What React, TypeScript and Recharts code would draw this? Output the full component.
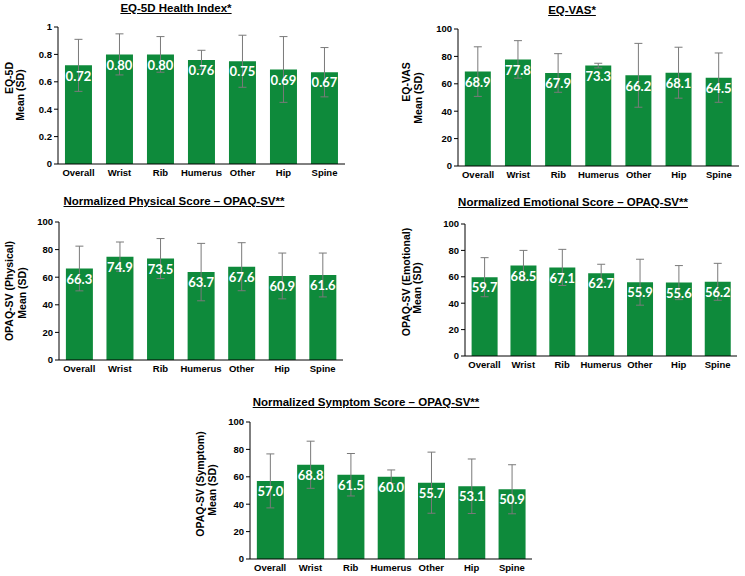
import React from "react";
import { BarChart, Bar, XAxis, YAxis, ErrorBar, LabelList } from "recharts";

const categories = ["Overall", "Wrist", "Rib", "Humerus", "Other", "Hip", "Spine"];

const eq5dMeans = [0.72, 0.8, 0.8, 0.76, 0.75, 0.69, 0.67];
const eq5dSDs = [0.19, 0.15, 0.13, 0.07, 0.19, 0.24, 0.18];

const vasMeans = [68.9, 77.8, 67.9, 73.3, 66.2, 68.1, 64.5];
const vasSDs = [18.1, 13.7, 14.1, 1.7, 23.3, 18.6, 18.0];

const physMeans = [66.3, 74.9, 73.5, 63.7, 67.6, 60.9, 61.6];
const physSDs = [16.2, 10.6, 14.5, 20.8, 17.4, 16.6, 15.9];

const emoMeans = [59.7, 68.5, 67.1, 62.7, 55.9, 55.6, 56.2];
const emoSDs = [14.8, 11.5, 13.7, 6.8, 17.4, 12.9, 14.0];

const sympMeans = [57.0, 68.8, 61.5, 60.0, 55.7, 53.1, 50.9];
const sympSDs = [19.7, 17.2, 15.5, 5.0, 22.3, 19.9, 17.9];

const ticks01 = [0, 0.2, 0.4, 0.6, 0.8, 1];
const ticks100 = [0, 20, 40, 60, 80, 100];

const GREEN = "#0e8a3b";
const FONT = "'Liberation Sans', Arial, sans-serif";

type Rect = { left: number; top: number; right: number; bottom: number };

function Panel(props: {
  means: number[];
  sds: number[];
  domain: [number, number];
  ticks: number[];
  decimals: number;
  tickFmt: (v: number) => string;
  rect: Rect;
  title: string;
  titleX: number;
  titleY: number;
  yLines: { text: string; x: number; y: number }[];
}) {
  const { means, sds, domain, ticks, decimals, tickFmt, rect, title, titleX, titleY, yLines } = props;
  const data = categories.map((c, i) => ({ name: c, mean: means[i], sd: sds[i] }));
  const chartLeft = rect.left - 40;
  const chartTop = rect.top - 10;
  const width = rect.right + 6 - chartLeft;
  const height = rect.bottom + 20 - chartTop;
  return (
    <>
      <div
        style={{
          position: "absolute",
          left: titleX - 200,
          top: titleY - 8,
          width: 400,
          textAlign: "center",
          fontFamily: FONT,
          fontWeight: "bold",
          fontSize: 11.5,
          lineHeight: "16px",
          color: "#000",
        }}
      >
        <span style={{ textDecoration: "underline" }}>{title}</span>
      </div>
      {yLines.map((l, i) => (
        <div
          key={i}
          style={{
            position: "absolute",
            left: l.x - 100,
            top: l.y - 7,
            width: 200,
            height: 14,
            lineHeight: "14px",
            textAlign: "center",
            fontFamily: FONT,
            fontWeight: "bold",
            fontSize: 10.5,
            color: "#000",
            transform: "rotate(-90deg)",
            transformOrigin: "50% 50%",
            whiteSpace: "nowrap",
          }}
        >
          {l.text}
        </div>
      ))}
      <div style={{ position: "absolute", left: chartLeft, top: chartTop }}>
        <BarChart
          width={width}
          height={height}
          data={data}
          margin={{ top: 10, right: 6, bottom: 0, left: 10 }}
          barCategoryGap="17%"
        >
          <XAxis
            dataKey="name"
            height={20}
            tickLine={false}
            tickSize={3}
            tickMargin={2}
            axisLine={{ stroke: "#000", strokeWidth: 1 }}
            tick={{ fill: "#000", fontSize: 9.5, fontWeight: "bold", fontFamily: FONT }}
            interval={0}
          />
          <YAxis
            width={30}
            domain={domain}
            ticks={ticks}
            tickFormatter={tickFmt}
            tickSize={4}
            tickMargin={2}
            axisLine={{ stroke: "#000", strokeWidth: 1 }}
            tickLine={{ stroke: "#000" }}
            tick={{ fill: "#000", fontSize: 9.5, fontWeight: "bold", fontFamily: FONT }}
            allowDataOverflow
          />
          <Bar dataKey="mean" fill={GREEN} isAnimationActive={false}>
            <ErrorBar dataKey="sd" width={4} stroke="#7a7a7a" strokeWidth={1} direction="y" />
            <LabelList
              dataKey="mean"
              position="insideTop"
              offset={6}
              formatter={(v: any) => Number(v).toFixed(decimals)}
              style={{ fill: "#fff", fontSize: 13, fontWeight: "bold", fontFamily: "Lato, 'Open Sans', sans-serif" }}
            />
          </Bar>
        </BarChart>
      </div>
    </>
  );
}

export default function App() {
  const fmt01 = (v: number) => (v === 0 ? "0" : v === 1 ? "1" : String(v));
  const fmt100 = (v: number) => String(v);
  return (
    <div style={{ position: "absolute", left: 0, top: 0, width: 745, height: 576, background: "#fff", overflow: "hidden" }}>
      <Panel
        means={eq5dMeans}
        sds={eq5dSDs}
        domain={[0, 1]}
        ticks={ticks01}
        decimals={2}
        tickFmt={fmt01}
        rect={{ left: 58, top: 27, right: 345, bottom: 164 }}
        title="EQ-5D Health Index*"
        titleX={176}
        titleY={8}
        yLines={[
          { text: "EQ-5D", x: 9, y: 78 },
          { text: "Mean (SD)", x: 20, y: 95 },
        ]}
      />
      <Panel
        means={vasMeans}
        sds={vasSDs}
        domain={[0, 100]}
        ticks={ticks100}
        decimals={1}
        tickFmt={fmt100}
        rect={{ left: 458, top: 29, right: 739, bottom: 166 }}
        title="EQ-VAS*"
        titleX={572}
        titleY={10}
        yLines={[
          { text: "EQ-VAS", x: 406, y: 82 },
          { text: "Mean (SD)", x: 418, y: 98 },
        ]}
      />
      <Panel
        means={physMeans}
        sds={physSDs}
        domain={[0, 100]}
        ticks={ticks100}
        decimals={1}
        tickFmt={fmt100}
        rect={{ left: 59, top: 222, right: 343, bottom: 360 }}
        title="Normalized Physical Score – OPAQ-SV**"
        titleX={174}
        titleY={201}
        yLines={[
          { text: "OPAQ-SV (Physical)", x: 9, y: 291 },
          { text: "Mean (SD)", x: 22, y: 293 },
        ]}
      />
      <Panel
        means={emoMeans}
        sds={emoSDs}
        domain={[0, 100]}
        ticks={ticks100}
        decimals={1}
        tickFmt={fmt100}
        rect={{ left: 465, top: 224, right: 737, bottom: 356 }}
        title="Normalized Emotional Score – OPAQ-SV**"
        titleX={573}
        titleY={202}
        yLines={[
          { text: "OPAQ-SV (Emotional)", x: 406, y: 282 },
          { text: "Mean (SD)", x: 417, y: 288 },
        ]}
      />
      <Panel
        means={sympMeans}
        sds={sympSDs}
        domain={[0, 100]}
        ticks={ticks100}
        decimals={1}
        tickFmt={fmt100}
        rect={{ left: 250, top: 422, right: 532, bottom: 559 }}
        title="Normalized Symptom Score – OPAQ-SV**"
        titleX={366}
        titleY={402}
        yLines={[
          { text: "OPAQ-SV (Symptom)", x: 200, y: 484 },
          { text: "Mean (SD)", x: 212, y: 490 },
        ]}
      />
    </div>
  );
}
